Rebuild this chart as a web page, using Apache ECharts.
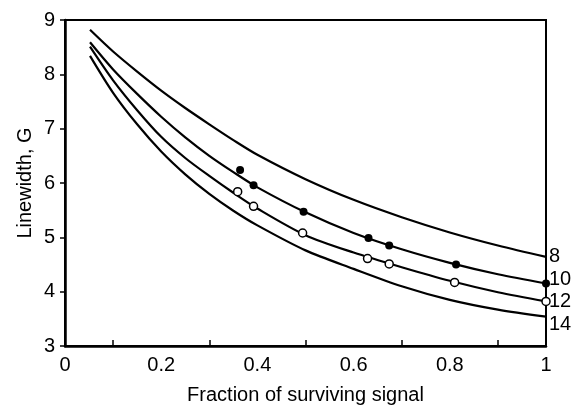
<!DOCTYPE html>
<html>
<head>
<meta charset="utf-8">
<script src="https://cdn.jsdelivr.net/npm/echarts@6/dist/echarts.min.js"></script>
<style>
  html, body { margin: 0; padding: 0; background: #fff; }
  #chart { width: 576px; height: 405px; }
</style>
</head>
<body>
<div id="chart"></div>
<script>
// fraction of surviving signal (x) for the curves
const xs = [0.052, 0.1, 0.15, 0.2, 0.25, 0.3, 0.35, 0.4, 0.5, 0.6, 0.7, 0.8, 0.9, 1.0];
// linewidth, G for each curve at xs
const curve8 = [8.82, 8.42, 8.05, 7.70, 7.38, 7.08, 6.79, 6.52, 6.07, 5.69, 5.37, 5.09, 4.85, 4.64];
const curve10 = [8.59, 8.09, 7.64, 7.22, 6.84, 6.50, 6.20, 5.92, 5.46, 5.08, 4.78, 4.53, 4.32, 4.15];
const curve12 = [8.51, 7.89, 7.34, 6.85, 6.46, 6.13, 5.82, 5.53, 5.04, 4.72, 4.45, 4.20, 3.99, 3.82];
const curve14 = [8.34, 7.66, 7.08, 6.58, 6.16, 5.80, 5.49, 5.22, 4.76, 4.42, 4.10, 3.85, 3.67, 3.54];
const curveNames = ["8", "10", "12", "14"];
const labelOffsets = [[0, 0], [0, -4], [0, 0], [0, 8]];

// measured points
const filledDots = [[0.364, 6.24], [0.392, 5.96], [0.496, 5.47], [0.631, 4.99], [0.674, 4.85], [0.813, 4.5], [1.0, 4.15]];
const openDots = [[0.359, 5.84], [0.392, 5.57], [0.494, 5.08], [0.629, 4.61], [0.674, 4.51], [0.81, 4.17], [1.0, 3.82]];

const xLabelTicks = [0, 0.2, 0.4, 0.6, 0.8, 1];
const xMinorTicks = [0.1, 0.3, 0.5, 0.7, 0.9];

const chart = echarts.init(document.getElementById("chart"));
const font = "Liberation Sans, Arial, sans-serif";

const lineSeries = [curve8, curve10, curve12, curve14].map((ys, i) => ({
  name: curveNames[i],
  type: "line",
  data: ys.map((y, j) => [xs[j], y]),
  smooth: 0.3,
  showSymbol: false,
  lineStyle: { color: "#000", width: 2.2 },
  endLabel: {
    show: true,
    formatter: "{a}",
    color: "#000",
    fontSize: 20,
    fontFamily: font,
    distance: 3,
    offset: labelOffsets[i],
  },
  z: 2,
}));

const option = {
  animation: false,
  grid: {
    left: 65,
    right: 30,
    top: 20,
    bottom: 59,
    outerBoundsMode: "none",
    show: true,
    borderColor: "#000",
    borderWidth: 2,
  },
  xAxis: {
    type: "value",
    min: 0,
    max: 1,
    interval: 0.2,
    name: "Fraction of surviving signal",
    nameLocation: "middle",
    nameGap: 39,
    nameMoveOverlap: false,
    nameTextStyle: { color: "#000", fontSize: 20, fontFamily: font },
    axisLine: { lineStyle: { color: "#000", width: 2.5 } },
    axisTick: {
      show: true,
      inside: true,
      length: 6,
      customValues: xMinorTicks,
      lineStyle: { color: "#000", width: 1.5 },
    },
    axisLabel: {
      color: "#000",
      fontSize: 20,
      fontFamily: font,
      margin: 9,
      customValues: xLabelTicks,
      formatter: (v) => String(+v.toFixed(1)),
    },
    splitLine: { show: false },
  },
  yAxis: {
    type: "value",
    min: 3,
    max: 9,
    interval: 1,
    name: "Linewidth, G",
    nameLocation: "middle",
    nameGap: 30,
    nameMoveOverlap: false,
    nameTextStyle: { color: "#000", fontSize: 20, fontFamily: font },
    axisLine: { show: true, lineStyle: { color: "#000", width: 2.5 } },
    axisTick: { show: true, inside: false, length: 5, lineStyle: { color: "#000", width: 1.5 } },
    axisLabel: { color: "#000", fontSize: 20, fontFamily: font, margin: 10 },
    splitLine: { show: false },
  },
  series: [
    ...lineSeries,
    {
      type: "scatter",
      data: filledDots,
      symbolSize: 8,
      itemStyle: { color: "#000", opacity: 1 },
      z: 3,
    },
    {
      type: "scatter",
      data: openDots,
      symbolSize: 8,
      itemStyle: { color: "#fff", borderColor: "#000", borderWidth: 1.5, opacity: 1 },
      z: 3,
    },
  ],
};

option && chart.setOption(option);
</script>
</body>
</html>
